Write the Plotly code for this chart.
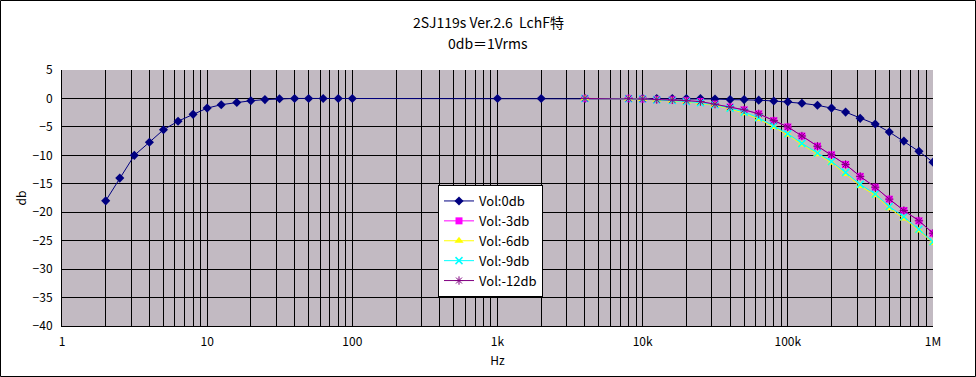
import plotly.graph_objects as go

# ---- data ----
freq_0db = [2, 2.5, 3.15, 4, 5, 6.3, 8, 10, 12.5, 16, 20, 25, 31.5, 40, 50, 63, 80, 100,
            1000, 2000, 4000, 8000, 10000, 12500, 16000, 20000, 25000, 31500, 40000, 50000,
            63000, 80000, 100000, 125000, 160000, 200000, 250000, 315000, 400000, 500000,
            630000, 800000, 1000000]
vol_0db = [-18, -14, -10, -7.7, -5.5, -4.0, -2.8, -1.7, -1.1, -0.7, -0.4, -0.2, -0.05, 0, 0, 0, 0, 0,
           0, 0, 0, 0, 0, 0, 0, 0, 0, -0.1, -0.2, -0.2,
           -0.3, -0.45, -0.6, -0.85, -1.2, -1.7, -2.4, -3.5, -4.5, -5.9,
           -7.5, -9.3, -11.2]

freq_hi = [4000, 8000, 10000, 12500, 16000, 20000, 25000, 31500, 40000, 50000, 63000, 80000,
           100000, 125000, 160000, 200000, 250000, 315000, 400000, 500000, 630000, 800000, 1000000]
vol_m3db = [0, 0, -0.1, -0.2, -0.25, -0.4, -0.55, -1.0, -1.5, -2.0, -2.7, -3.9,
            -5.0, -6.6, -8.4, -9.9, -11.6, -13.7, -15.6, -17.7, -19.7, -21.5, -23.7]
vol_m6db = [0, -0.05, -0.1, -0.3, -0.4, -0.6, -0.8, -1.2, -1.8, -2.6, -3.6, -5.0,
            -6.4, -8.1, -9.8, -11.3, -13.3, -15.4, -17.0, -19.3, -21.1, -23.2, -25.4]
vol_m9db = [0, -0.05, -0.1, -0.25, -0.35, -0.55, -0.75, -1.1, -1.7, -2.4, -3.4, -4.8,
            -6.2, -7.9, -9.6, -11.1, -13.0, -15.1, -16.8, -19.0, -20.8, -23.0, -25.2]
vol_m12db = [0, 0, -0.1, -0.2, -0.25, -0.4, -0.55, -1.0, -1.5, -2.0, -2.7, -3.9,
             -5.0, -6.6, -8.4, -9.9, -11.6, -13.7, -15.6, -17.7, -19.7, -21.5, -23.7]

x_tick_vals = [m * 10 ** d for d in range(0, 6) for m in range(1, 10)] + [1000000]
x_major_text = {1: "1", 10: "10", 100: "100", 1000: "1k", 10000: "10k", 100000: "100k", 1000000: "1M"}
x_tick_text = [x_major_text.get(v, "") for v in x_tick_vals]
y_tick_vals = list(range(-40, 6, 5))

title_line1 = "2SJ119s Ver.2.6\u00a0\u00a0LchF特"
title_line2 = "0db＝1Vrms"

FONT = "MS PGothic, Noto Sans CJK JP, Liberation Sans, sans-serif"

# plot area in pixels (reference)
PL, PR, PT, PB = 62, 933, 70, 326
PW, PH = PR - PL, PB - PT

fig = go.Figure()
fig.add_trace(go.Scatter(x=freq_0db, y=vol_0db, name="Vol:0db", mode="lines+markers",
                         line=dict(color="#000080", width=1),
                         marker=dict(symbol="diamond", size=7, color="#000080")))
fig.add_trace(go.Scatter(x=freq_hi, y=vol_m3db, name="Vol:-3db", mode="lines+markers",
                         line=dict(color="#FF00FF", width=1),
                         marker=dict(symbol="square", size=7, color="#FF00FF")))
fig.add_trace(go.Scatter(x=freq_hi, y=vol_m6db, name="Vol:-6db", mode="lines+markers",
                         line=dict(color="#FFFF00", width=1),
                         marker=dict(symbol="triangle-up", size=8, color="#FFFF00")))
fig.add_trace(go.Scatter(x=freq_hi, y=vol_m9db, name="Vol:-9db", mode="lines+markers",
                         line=dict(color="#00FFFF", width=1),
                         marker=dict(symbol="x-thin-open", size=7, color="#00FFFF",
                                     line=dict(color="#00FFFF", width=1.5))))
fig.add_trace(go.Scatter(x=freq_hi, y=vol_m12db, name="Vol:-12db", mode="lines+markers",
                         line=dict(color="#800080", width=1),
                         marker=dict(symbol="asterisk-open", size=7, color="#800080",
                                     line=dict(color="#800080", width=1))))

fig.update_layout(
    width=976, height=377,
    margin=dict(l=PL, r=976 - PR, t=PT, b=377 - PB, autoexpand=False),
    paper_bgcolor="white",
    plot_bgcolor="#c2bac2",
    font=dict(family=FONT, size=12, color="black"),
    showlegend=True,
    legend=dict(x=(438 - PL) / PW, y=(PB - 185) / PH, xanchor="left", yanchor="top",
                bgcolor="white", bordercolor="black", borderwidth=1,
                font=dict(family=FONT, size=13, color="black"),
                itemwidth=30, tracegroupgap=0),
    xaxis=dict(type="log", range=[0, 6], tickvals=x_tick_vals, ticktext=x_tick_text,
               showgrid=True, gridcolor="black", gridwidth=1,
               showline=True, linecolor="black", linewidth=1, ticks="",
               zeroline=False, tickfont=dict(size=12), ticklabelstandoff=5,
               automargin=False,
               title=dict(text="Hz", standoff=8, font=dict(size=12))),
    yaxis=dict(range=[-40, 5], tickvals=y_tick_vals,
               showgrid=True, gridcolor="black", gridwidth=1,
               showline=True, linecolor="black", linewidth=1, ticks="",
               zeroline=False, tickfont=dict(size=12), ticklabelstandoff=6,
               automargin=False,
               title=dict(text="db", standoff=3, font=dict(size=12))),
    annotations=[
        dict(text=title_line1, xref="paper", yref="paper", x=(488 - PL) / PW, y=(PB - 22) / PH,
             xanchor="center", yanchor="middle", showarrow=False,
             font=dict(family=FONT, size=14, color="black")),
        dict(text=title_line2, xref="paper", yref="paper", x=(488 - PL) / PW, y=(PB - 43) / PH,
             xanchor="center", yanchor="middle", showarrow=False,
             font=dict(family=FONT, size=14, color="black")),
    ],
)

# outer chart frame
fig.add_shape(type="rect", xref="paper", yref="paper",
              x0=(0.5 - PL) / PW, x1=(975.5 - PL) / PW, y0=(PB - 376.5) / PH, y1=(PB - 0.5) / PH,
              line=dict(color="black", width=1), fillcolor="rgba(0,0,0,0)", layer="above")

fig.write_html("out.html", config={"displayModeBar": False},
               post_script="document.body.style.margin='0';document.body.style.overflow='hidden';")
